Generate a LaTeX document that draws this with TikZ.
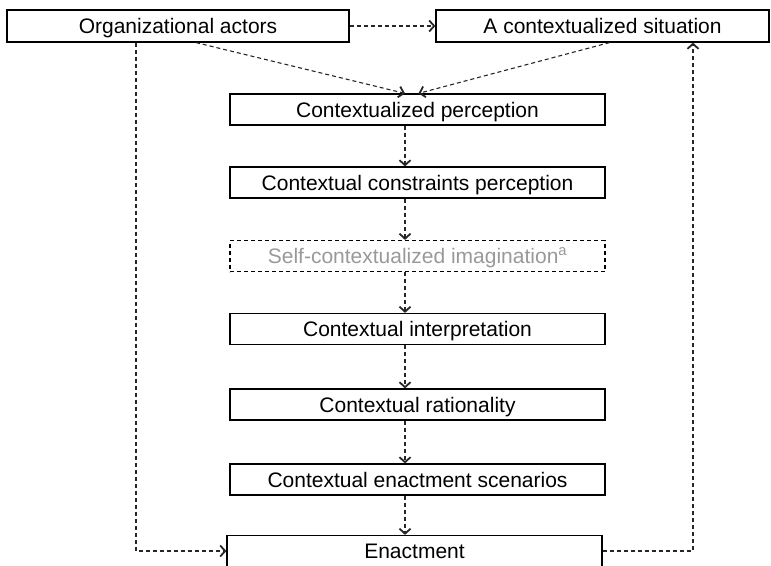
\documentclass[tikz,border=0pt]{standalone}
\usepackage{fontspec}
\setmainfont{Liberation Sans}
\usetikzlibrary{arrows.meta}
\usepackage{xcolor}
\definecolor{fadedtext}{gray}{0.6}

\begin{document}
\begin{tikzpicture}[x=1pt, y=-1pt, stage/.style={draw, line width=1.2pt, minimum width=375pt, minimum height=31pt, inner sep=0pt, text height=16pt, text depth=1pt, font=\fontsize{21}{24}\selectfont}, ghost/.style={stage, dashed, dash pattern=on 4pt off 3pt, text=fadedtext}, flow/.style={-{Straight Barb[length=5pt,width=11pt,line width=1.8pt]}, black!85, line width=1.1pt, dash pattern=on 4pt off 3pt}]

    \useasboundingbox (0, 0) rectangle (771, 565);

    \node at (178, 26) [stage, minimum width=342pt, minimum height=32pt] (actors) {Organizational actors};
    \node at (602.5, 26) [stage, minimum width=333pt, minimum height=32pt] (situation) {A contextualized situation};

    \node at (417.5, 109.5) [stage] (perc) {Contextualized perception};
    \node at (417.5, 182.5) [stage] (constr) {Contextual constraints perception};
    \node at (417.5, 256) [ghost] (imag) {Self-contextualized imagination\textsuperscript{a}};
    \node at (417.5, 329) [stage] (interp) {Contextual interpretation};
    \node at (417.5, 404.5) [stage] (ratio) {Contextual rationality};
    \node at (417.5, 479.5) [stage] (scen) {Contextual enactment scenarios};
    \node at (414.5, 551) [stage] (enact) {Enactment};

    \coordinate (spine) at (405, 0);
    \coordinate (loopL) at (136, 0);
    \coordinate (loopR) at (693, 0);

    %top row
    \draw[flow] (actors.east) -- (situation.west);
    \draw[flow] ([xshift=18pt]actors.south) -- (perc.north -| spine);
    \draw[flow] ([xshift=7pt]situation.south) -- ([xshift=1pt]perc.north);

    %main chain
    \draw[flow] (perc.south -| spine) -- (constr.north -| spine);
    \draw[flow] (constr.south -| spine) -- (imag.north -| spine);
    \draw[flow] (imag.south -| spine) -- (interp.north -| spine);
    \draw[flow] (interp.south -| spine) -- (ratio.north -| spine);
    \draw[flow] (ratio.south -| spine) -- (scen.north -| spine);
    \draw[flow] (scen.south -| spine) -- (enact.north -| spine);

    %side loops
    \draw[flow] (actors.south -| loopL) |- (enact.west);
    \draw[flow] (enact.east) -| (situation.south -| loopR);
\end{tikzpicture}
\end{document}
